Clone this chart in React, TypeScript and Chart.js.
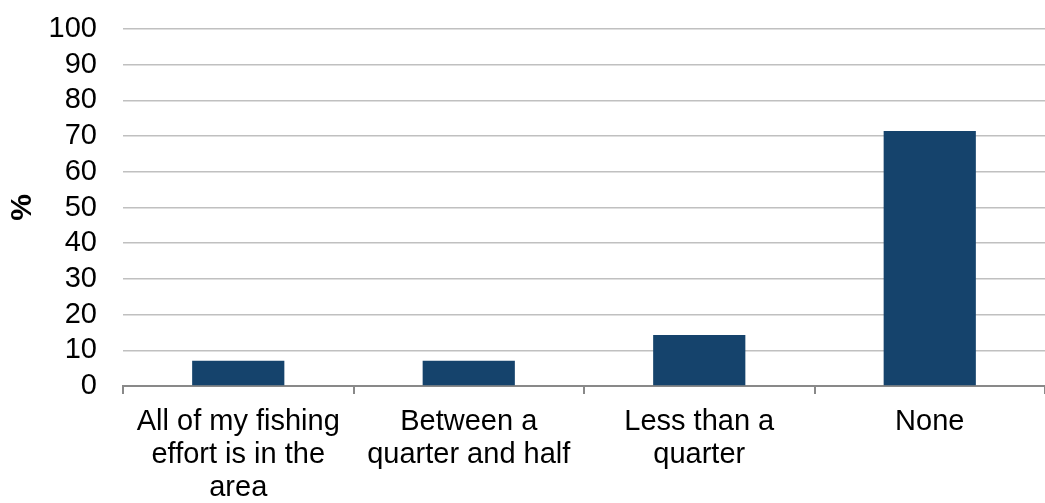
import React, { useEffect, useRef } from "react";
import { Chart, registerables } from "chart.js";

Chart.register(...registerables);

const categories: string[][] = [
  ["All of my fishing", "effort is in the", "area"],
  ["Between a", "quarter and half"],
  ["Less than a", "quarter"],
  ["None"],
];
const values: number[] = [7.1, 7.1, 14.3, 71.4];
const yTicksMin = 0;
const yTicksMax = 100;
const yTickStep = 10;
const yTitle = "%";

export default function App() {
  const ref = useRef<HTMLCanvasElement | null>(null);
  useEffect(() => {
    document.body.style.margin = "0";
    const canvas = ref.current;
    if (!canvas) return;
    const font = "'Liberation Sans', Arial, sans-serif";
    const chart = new Chart(canvas, {
      type: "bar",
      data: {
        labels: categories,
        datasets: [
          {
            data: values,
            backgroundColor: "#15436c",
            borderWidth: 0,
            barPercentage: 0.4,
            categoryPercentage: 1,
          },
        ],
      },
      options: {
        responsive: false,
        animation: false,
        layout: { padding: { top: 29, right: 0, bottom: 0, left: 0 } },
        plugins: { legend: { display: false }, tooltip: { enabled: false } },
        scales: {
          x: {
            offset: true,
            grid: {
              offset: true,
              drawOnChartArea: false,
              drawTicks: true,
              tickLength: 8,
              color: "#898989",
              lineWidth: 2,
            },
            border: { display: true, color: "#898989", width: 2 },
            ticks: {
              color: "#000",
              padding: 11,
              maxRotation: 0,
              autoSkip: false,
              font: { family: font, size: 29, lineHeight: 1.14 },
            },
            afterFit: (scale: any) => {
              scale.height = 117;
              scale.paddingLeft = 0;
              scale.paddingRight = 0;
            },
          },
          y: {
            min: yTicksMin,
            max: yTicksMax,
            grid: { color: "#c0c0c0", lineWidth: 1.5, drawTicks: false },
            border: { display: false },
            ticks: {
              stepSize: yTickStep,
              autoSkip: false,
              color: "#000",
              padding: 26,
              font: { family: font, size: 29 },
            },
            title: {
              display: true,
              text: yTitle,
              color: "#000",
              padding: { top: 5, bottom: 0 },
              font: { family: font, size: 30, weight: "bold" },
            },
            afterFit: (scale: any) => {
              scale.width = 123;
              scale.paddingTop = 0;
              scale.paddingBottom = 0;
            },
          },
        },
      },
    });
    return () => chart.destroy();
  }, []);
  return (
    <div style={{ position: "absolute", left: 0, top: 0, width: 1045, height: 503 }}>
      <canvas ref={ref} width={1045} height={503} />
    </div>
  );
}
